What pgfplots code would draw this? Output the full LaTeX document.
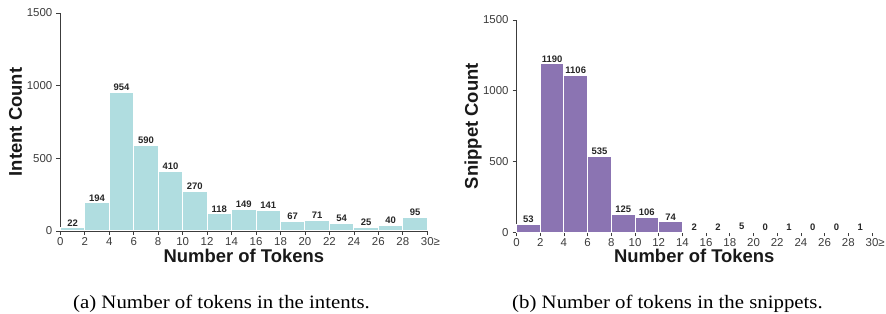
\documentclass[border=0pt]{standalone}
\usepackage{fontspec}
\setmainfont{Liberation Sans}
\newfontfamily\capfont{Liberation Serif}
\usepackage{graphicx}
\usepackage{pgfplots}
\pgfplotsset{compat=1.18}
\definecolor{tealbar}{RGB}{176,221,224}
\definecolor{purplebar}{RGB}{139,116,178}
\definecolor{axisgray}{RGB}{60,60,60}
\pgfplotsset{
  /pgf/number format/assume math mode=true,
  /pgf/number format/1000 sep={},
  hist/.style={
    scale only axis, xmin=0, xmax=30, ymin=0, ymax=1500,
    axis lines*=left,
    axis line style={axisgray, line width=0.8bp},
    tick align=outside,
    tick style={axisgray, line width=0.8bp},
    major tick length=4bp,
    xtick={0,2,4,6,8,10,12,14,16,18,20,22,24,26,28,30},
    xticklabels={0,2,4,6,8,10,12,14,16,18,20,22,24,26,28,30\rlap{≥}},
    ytick={0,500,1000,1500},
    yticklabels={0,500,1000,1500},
    tick label style={font=\fontsize{11.5}{12}\selectfont, text=axisgray, inner sep=1bp},
    xticklabel style={yshift=-1.2bp},
    yticklabel style={xshift=-2.8bp},
    label style={font=\fontsize{18.5}{20}\selectfont\bfseries, text=black!90, inner sep=0.5bp},
    xlabel={\raisebox{0pt}[0.73em][0.2em]{Number of Tokens}},
    ylabel style={at={(axis description cs:-0.122,0.5)}, anchor=center},
    clip=false,
  },
  vals/.style={draw=none, mark=none, point meta=y,
    nodes near coords={\pgfmathprintnumber[fixed,precision=0]{\pgfplotspointmeta}},
    nodes near coords style={font=\fontsize{9.5}{10}\selectfont\bfseries, text=black!85, anchor=south, inner sep=1.5bp}},
}
\begin{document}
\begin{tikzpicture}
\useasboundingbox (0,0) rectangle (886bp,314bp);
\begin{axis}[hist, at={(60.3bp,83bp)}, anchor=south west, width=367bp, height=218bp, ylabel={Intent Count},
  xlabel style={at={(axis description cs:0.5,0)}, anchor=base, yshift=-32bp}]
\addplot[ybar interval, fill=tealbar, draw=white, line width=1bp] coordinates {
(0,22)(2,194)(4,954)(6,590)(8,410)(10,270)(12,118)(14,149)(16,141)(18,67)(20,71)(22,54)(24,25)(26,40)(28,95)(30,95)};
\addplot[vals] coordinates {
(1,22)(3,194)(5,954)(7,590)(9,410)(11,270)(13,118)(15,149)(17,141)(19,67)(21,71)(23,54)(25,25)(27,40)(29,95)};
\end{axis}
\begin{axis}[hist, at={(516.5bp,81.7bp)}, anchor=south west, width=355.5bp, height=212.3bp, ylabel={Snippet Count},
  xlabel style={at={(axis description cs:0.5,0)}, anchor=base, yshift=-30.7bp}]
\addplot[ybar interval, fill=purplebar, draw=white, line width=1bp] coordinates {
(0,53)(2,1190)(4,1106)(6,535)(8,125)(10,106)(12,74)(14,2)(16,2)(18,5)(20,0)(22,1)(24,0)(26,0)(28,1)(30,1)};
\addplot[vals] coordinates {
(1,53)(3,1190)(5,1106)(7,535)(9,125)(11,106)(13,74)(15,2)(17,2)(19,5)(21,0)(23,1)(25,0)(27,0)(29,1)};
\end{axis}
\node[font=\capfont\fontsize{19}{20}\selectfont, anchor=base, inner sep=0pt] at (221.5bp,6bp) {\scalebox{1.1}[1]{(a) Number of tokens in the intents.}};
\node[font=\capfont\fontsize{19}{20}\selectfont, anchor=base, inner sep=0pt] at (667.5bp,6bp) {\scalebox{1.1}[1]{(b) Number of tokens in the snippets.}};
\end{tikzpicture}
\end{document}
